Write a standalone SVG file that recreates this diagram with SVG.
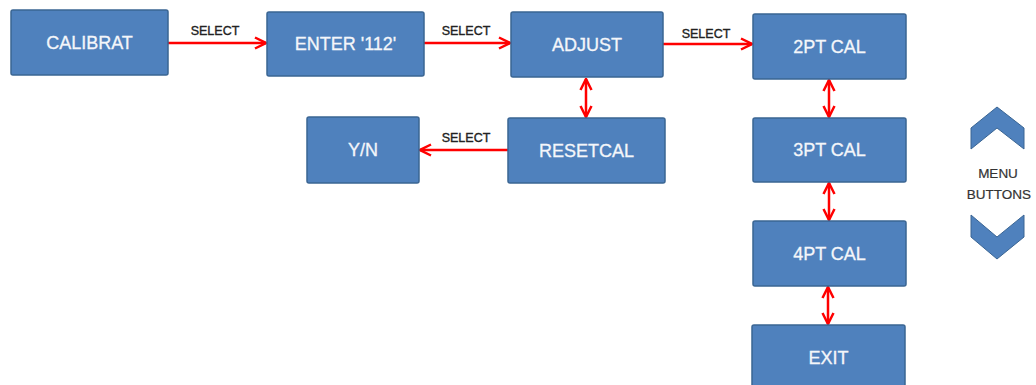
<svg xmlns="http://www.w3.org/2000/svg" width="1036" height="385" viewBox="0 0 1036 385">
<defs>
<style>
.box{fill:#4F81BD;stroke:#3A6593;stroke-width:1.5}
.bt{font-family:"Liberation Sans",Arial,sans-serif;font-size:18px;fill:#F4F6FA;stroke:#F4F6FA;stroke-width:0.3;text-anchor:middle}
.lbl{font-family:"Liberation Sans",Arial,sans-serif;font-size:12.5px;fill:#222222;stroke:#222222;stroke-width:0.35;text-anchor:middle}
.con{stroke:#FF0000;stroke-width:2.5;fill:none}
.menu{font-family:"Liberation Sans",Arial,sans-serif;font-size:13.5px;fill:#333333;stroke:#333333;stroke-width:0.2;text-anchor:middle}
.chev{fill:#4F81BD;stroke:#3A6593;stroke-width:1}
</style>
<marker id="ah" viewBox="0 0 14 14" refX="12.5" refY="7" markerWidth="14" markerHeight="14" markerUnits="userSpaceOnUse" orient="auto-start-reverse">
<path d="M1.5,1.5 L12.5,7 L1.5,12.5" fill="none" stroke="#FF0000" stroke-width="2.5" stroke-linejoin="miter"/>
</marker>
</defs>
<rect width="1036" height="385" fill="#FFFFFF"/>
<g id="connectors">
<line class="con" x1="168" y1="43" x2="266" y2="43" marker-end="url(#ah)"/>
<line class="con" x1="424" y1="43" x2="510" y2="43" marker-end="url(#ah)"/>
<line class="con" x1="663" y1="44" x2="752" y2="44" marker-end="url(#ah)"/>
<line class="con" x1="508" y1="150" x2="420" y2="150" marker-end="url(#ah)"/>
<line class="con" x1="586" y1="79" x2="586" y2="117" marker-start="url(#ah)" marker-end="url(#ah)"/>
<line class="con" x1="829" y1="80" x2="829" y2="117" marker-start="url(#ah)" marker-end="url(#ah)"/>
<line class="con" x1="829" y1="183" x2="829" y2="220" marker-start="url(#ah)" marker-end="url(#ah)"/>
<line class="con" x1="828" y1="287" x2="828" y2="324" marker-start="url(#ah)" marker-end="url(#ah)"/>
<text class="lbl" x="215" y="35">SELECT</text>
<text class="lbl" x="466" y="35">SELECT</text>
<text class="lbl" x="706" y="38">SELECT</text>
<text class="lbl" x="466" y="142">SELECT</text>
</g>
<g id="calibrat"><rect class="box" x="11" y="10" width="157" height="65" rx="2"/><text class="bt" x="89.5" y="49">CALIBRAT</text></g>
<g id="enter112"><rect class="box" x="267" y="12" width="157" height="64" rx="2"/><text class="bt" x="345.5" y="50">ENTER '112'</text></g>
<g id="adjust"><rect class="box" x="511" y="12" width="152" height="65" rx="2"/><text class="bt" x="587" y="51">ADJUST</text></g>
<g id="pt2"><rect class="box" x="753" y="14" width="153" height="65" rx="2"/><text class="bt" x="829.5" y="53">2PT CAL</text></g>
<g id="yn"><rect class="box" x="307" y="117" width="112" height="66" rx="2"/><text class="bt" x="363" y="156">Y/N</text></g>
<g id="resetcal"><rect class="box" x="508" y="118" width="157" height="65" rx="2"/><text class="bt" x="586.5" y="157">RESETCAL</text></g>
<g id="pt3"><rect class="box" x="753" y="118" width="153" height="64" rx="2"/><text class="bt" x="829.5" y="156">3PT CAL</text></g>
<g id="pt4"><rect class="box" x="753" y="221" width="153" height="65" rx="2"/><text class="bt" x="829.5" y="260">4PT CAL</text></g>
<g id="exit"><rect class="box" x="752" y="325" width="153" height="70" rx="2"/><text class="bt" x="828.5" y="364">EXIT</text></g>
<g id="menu-buttons">
<polygon class="chev" points="971,128 997,107 1024,128 1024,149 997,128 971,149"/>
<text class="menu" x="998" y="178">MENU</text>
<text class="menu" x="999" y="199">BUTTONS</text>
<polygon class="chev" points="971,215 997,237 1024,215 1024,237 997,259 971,237"/>
</g>
</svg>
